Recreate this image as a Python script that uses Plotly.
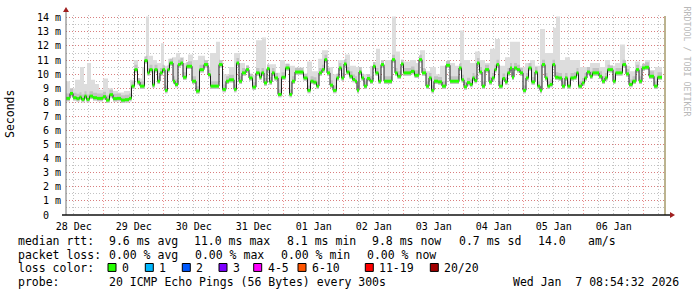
import numpy as np
import pandas as pd
import plotly.graph_objects as go

# ---------------- data ----------------
END_TIME = pd.Timestamp("2026-01-07 08:54:32")
START_TIME = END_TIME - pd.Timedelta(days=10)
DATA_END_H = 238.4  # hours after start where the data stops

# median RTT step function: start hour of each step, value in ms
MEDIAN_H = [0.0, 1.6, 2.8, 4.2, 5.4, 6.2, 7.4, 8.2, 9.4, 10.8, 12.4, 14.8, 16.0, 17.4, 18.8, 20.4, 22.0, 23.6,
            25.2, 26.2, 27.4, 28.6, 29.6, 31.4, 32.6, 33.4, 34.6, 35.4, 36.6, 37.6, 38.6, 39.6, 40.6, 41.4, 42.8,
            43.6, 44.8, 45.8, 46.8, 48.2, 50.4, 52.0, 53.4, 55.2, 56.8, 57.8, 61.2, 62.6, 64.0, 65.2, 67.2, 68.2,
            69.2, 70.4, 72.0, 73.2, 74.6, 76.0, 77.4, 78.2, 79.2, 80.4, 81.4, 82.4, 83.4, 84.8, 86.2, 87.8, 89.4,
            90.4, 91.6, 95.0, 96.6, 97.8, 99.0, 100.2, 101.2, 102.4, 103.4, 104.4, 105.6, 106.8, 108.2, 109.2,
            110.2, 111.2, 112.2, 113.4, 114.6, 115.6, 116.4, 117.2, 118.2, 119.2, 120.4, 121.6, 122.8, 123.8,
            125.0, 126.0, 127.2, 130.4, 131.6, 132.6, 134.0, 135.0, 138.0, 139.4, 141.2, 142.4, 144.0, 145.2,
            146.2, 147.2, 148.8, 150.4, 152.0, 153.6, 157.2, 158.2, 159.2, 160.4, 161.6, 162.6, 163.4, 164.4,
            165.4, 166.4, 167.6, 169.2, 170.4, 171.4, 172.2, 173.2, 174.6, 175.6, 176.6, 177.6, 178.4, 179.2,
            180.4, 181.6, 182.8, 184.0, 185.0, 186.2, 187.6, 188.6, 189.6, 190.4, 191.6, 192.6, 193.6, 194.6,
            195.6, 197.0, 198.4, 199.6, 200.6, 201.8, 203.2, 204.2, 205.0, 206.4, 207.4, 208.4, 209.6, 210.6,
            213.2, 214.4, 215.6, 216.6, 218.8, 219.8, 222.6, 224.0, 225.2, 226.6, 228.0, 229.2, 230.4, 231.6,
            233.2, 235.2, 236.6]
MEDIAN_MS = [8.28, 8.63, 8.33, 8.26, 8.37, 8.21, 8.44, 8.21, 8.44, 8.33, 8.28, 8.40, 8.16, 8.54, 8.26, 8.28, 8.16, 8.19,
             8.28, 9.15, 10.32, 9.43, 9.15, 10.96, 10.09, 10.32, 9.22, 10.32, 9.5, 10.09, 10.32, 8.85, 10.32, 10.79, 9.5,
             9.27, 10.68, 10.79, 9.78, 10.56, 9.5, 8.80, 10.32, 10.68, 9.97, 9.15, 10.68, 8.92, 9.5, 9.6, 8.92, 10.79,
             9.5, 10.09, 10.32, 9.73, 9.08, 10.09, 9.78, 10.09, 9.38, 10.39, 9.45, 10.09, 9.73, 8.56, 9.78, 10.44, 8.56,
             9.5, 10.15, 9.73, 8.85, 9.5, 9.43, 9.15, 10.09, 10.32, 11.03, 10.09, 9.22, 8.85, 9.73, 10.44,
             9.73, 10.72, 10.15, 9.85, 9.62, 9.5, 8.85, 10.15, 9.73, 9.15, 9.69, 9.5, 10.56, 10.09,
             9.5, 10.68, 9.5, 11.03, 10.09, 9.85, 10.72, 10.09, 10.2, 9.92, 11.03, 10.09, 9.15, 9.73,
             8.85, 9.5, 9.45, 9.15, 10.63, 9.5, 10.44, 9.6, 9.1, 9.4, 9.27, 9.73, 9.55, 10.79,
             10.15, 9.15, 10.32, 9.45, 9.73, 10.32, 10.68, 9.15, 9.69, 9.45, 10.09, 10.44, 9.78, 10.44,
             10.32, 10.09, 8.85, 9.73, 10.44, 9.45, 10.15, 9.15, 8.85, 10.68, 9.73, 9.15, 9.27, 10.68,
             9.78, 9.73, 9.15, 9.73, 9.15, 9.73, 9.78, 10.09, 9.15, 9.38, 9.73, 10.15, 9.85, 10.09,
             9.85, 9.5, 9.73, 10.32, 9.5, 10.09, 10.68, 10.02, 9.27, 9.5, 10.32, 9.5, 10.44, 10.49,
             9.85, 9.15, 9.78]

# smoke (highest ping) step function: start hour, value in ms
SMOKE_H = [0.0, 1.6, 3.6, 5.6, 7.2, 8.4, 10.0, 11.6, 13.2, 14.8, 16.8, 18.8, 20.8, 23.2, 25.6, 27.2, 28.8, 30.4,
           32.0, 33.2, 34.8, 36.4, 38.0, 39.2, 40.8, 42.4, 44.0, 45.6, 47.2, 48.8, 50.8, 52.8, 55.6, 57.6, 60.0,
           61.6, 63.2, 65.2, 67.2, 69.6, 71.6, 73.6, 76.0, 78.4, 80.0, 81.6, 84.0, 85.6, 87.6, 89.6, 91.6, 94.4,
           96.4, 98.4, 100.8, 102.4, 104.8, 106.8, 108.8, 111.6, 113.6, 116.0, 118.4, 121.6, 124.0, 125.6, 127.6,
           130.4, 132.0, 133.6, 135.2, 137.6, 140.0, 141.6, 143.6, 145.6, 148.0, 149.6, 152.4, 153.6, 155.6,
           157.6, 159.2, 161.6, 163.6, 165.6, 167.6, 169.6, 171.6, 173.6, 175.6, 177.6, 181.6, 183.6, 185.6,
           187.6, 189.6, 191.6, 194.8, 196.0, 197.6, 199.6, 201.6, 205.6, 209.6, 213.6, 215.6, 217.6, 219.6,
           221.6, 223.6, 225.6, 227.6, 229.6, 231.6, 233.6, 235.6]
SMOKE_TOP_MS = [9.5, 9.0, 9.6, 10.5, 9.3, 10.8, 9.6, 9.3, 8.9, 9.7, 9.0, 8.8, 8.7, 8.8, 9.6, 11.0, 9.7, 10.5,
                14.1, 11.3, 11.0, 10.8, 12.2, 10.6, 11.1, 11.2, 11.5, 11.2, 10.8, 11.4, 11.0, 11.3, 10.5, 11.5, 12.3,
                10.2, 10.0, 10.5, 11.5, 10.8, 10.1, 9.9, 12.4, 12.6, 10.3, 10.7, 10.1, 11.0, 10.4, 10.6, 10.1, 9.7,
                10.9, 10.2, 11.1, 11.7, 10.5, 10.0, 11.0, 11.4, 10.6, 10.5, 10.0, 10.6, 11.8, 10.5, 11.0,
                14.1, 11.6, 10.5, 10.9, 11.0, 10.8, 11.7, 10.2, 10.5, 10.0, 10.6, 11.0, 10.8, 10.6,
                13.1, 11.0, 10.8, 11.6, 11.0, 10.8, 11.8, 12.5, 10.6, 11.2, 12.3, 10.5, 10.8, 11.0,
                10.6, 13.2, 11.5, 13.3, 14.1, 11.0, 11.2, 11.0, 10.5, 10.8, 10.5, 11.0, 10.6, 10.8,
                12.1, 10.6, 10.2, 10.9, 10.6, 11.0, 10.3, 10.5]

Y_TICKS = list(range(0, 15))
Y_TICKTEXT = ["0\u00a0\u00a0"] + [f"{v} m" for v in range(1, 15)]

STATS_RTT = ["median rtt:", "9.6 ms avg", "11.0 ms max", "8.1 ms min", "9.8 ms now", "0.7 ms sd", "14.0", "am/s"]
STATS_LOSS = ["packet loss:", "0.00 % avg", "0.00 % max", "0.00 % min", "0.00 % now"]
LOSS_LABELS = ["0", "1", "2", "3", "4-5", "6-10", "11-19", "20/20"]
LOSS_COLORS = ["#26ff00", "#00b8ff", "#0059ff", "#7e00ff", "#ff00ff", "#ff5500", "#ff0000", "#a10000"]
PROBE_TEXT = ["probe:", "20 ICMP Echo Pings (56 Bytes) every 300s", "Wed Jan  7 08:54:32 2026"]

# ---------------- geometry ----------------
W, H = 697, 297
PL, PR, PT, PB = 66, 666, 13, 215
def px(x):
    return (x - PL) / (PR - PL)
def py(y):
    return (PB - y) / (PB - PT)

def t(h):
    return START_TIME + pd.to_timedelta(np.asarray(h, dtype=float), unit="h")

# ---------------- derived series ----------------
med_h = np.array(MEDIAN_H)
med_v = np.array(MEDIAN_MS)
sm_h = np.array(SMOKE_H)
sm_v = np.array(SMOKE_TOP_MS)
brk = np.unique(np.concatenate([med_h, sm_h]))
brk = brk[brk < DATA_END_H]
mi = np.searchsorted(med_h, brk, side="right") - 1
si = np.searchsorted(sm_h, brk, side="right") - 1
b_med = med_v[mi]
b_top = np.maximum(sm_v[si], b_med + 0.3)
b_low = b_med - 0.2
b_mid = np.minimum(b_med + 0.35, b_top)

bx = t(np.append(brk, DATA_END_H))
def ext(a):
    return np.append(a, a[-1])

fig = go.Figure()
# light smoke
fig.add_trace(go.Scatter(x=bx, y=ext(b_low), mode="lines", line=dict(width=0, shape="hv"),
                         hoverinfo="skip", showlegend=False))
fig.add_trace(go.Scatter(x=bx, y=ext(b_top), mode="lines", line=dict(width=0, shape="hv"),
                         fill="tonexty", fillcolor="#dddddd", hoverinfo="skip", showlegend=False))
# darker smoke near median
fig.add_trace(go.Scatter(x=bx, y=ext(b_low), mode="lines", line=dict(width=0, shape="hv"),
                         hoverinfo="skip", showlegend=False))
fig.add_trace(go.Scatter(x=bx, y=ext(b_mid), mode="lines", line=dict(width=0, shape="hv"),
                         fill="tonexty", fillcolor="#c2c2c2", hoverinfo="skip", showlegend=False))
# median black step line
mx = t(np.append(med_h, DATA_END_H))
fig.add_trace(go.Scatter(x=mx, y=ext(med_v), mode="lines", line=dict(width=1, color="#202020", shape="hv"),
                         hoverinfo="skip", showlegend=False))
# green loss-colour boxes on each step
gx, gy = [], []
ends = np.append(med_h[1:], DATA_END_H)
for h0, h1, v in zip(med_h, ends, med_v):
    gx += [t(h0), t(h1), None]
    gy += [v, v, None]
fig.add_trace(go.Scatter(x=gx, y=gy, mode="lines", line=dict(width=3, color=LOSS_COLORS[0]),
                         hoverinfo="skip", showlegend=False))

MONO = "DejaVu Sans Mono"
MAJ = "rgba(230,80,80,0.6)"
MIN = "#c2c2c2"
fig.update_layout(
    width=W, height=H, margin=dict(l=PL, r=W - PR, t=PT, b=H - PB),
    paper_bgcolor="white", plot_bgcolor="white", showlegend=False,
    xaxis=dict(type="date", range=[START_TIME, END_TIME], tick0="2025-12-28 00:00:00", dtick=86400000,
               tickformat="%d %b", ticklabelmode="period", ticks="", showline=False, zeroline=False,
               ticklabelstandoff=4,
               showgrid=True, gridcolor=MAJ, griddash="1px,2px", gridwidth=1,
               minor=dict(dtick=6 * 3600000, showgrid=True, gridcolor=MIN, griddash="1px,2px", gridwidth=1),
               tickfont=dict(family=MONO, size=10, color="black"), fixedrange=True),
    yaxis=dict(range=[0, 14.2], tickvals=Y_TICKS, ticktext=Y_TICKTEXT, ticks="", showline=False, zeroline=False,
               ticklabelstandoff=4,
               showgrid=True, gridcolor=MAJ, griddash="1px,2px", gridwidth=1,
               minor=dict(dtick=0.5, showgrid=True, gridcolor=MIN, griddash="1px,2px", gridwidth=1),
               tickfont=dict(family=MONO, size=10, color="black"), fixedrange=True),
)

shapes = []
# time marker at the right end
shapes.append(dict(type="line", xref="paper", yref="paper", x0=px(665), x1=px(665), y0=py(215), y1=py(14),
                   line=dict(color="#bcb38f", width=2)))
# axes
shapes.append(dict(type="line", xref="paper", yref="paper", x0=px(66), x1=px(66), y0=py(215), y1=py(8),
                   line=dict(color="#707070", width=1)))
shapes.append(dict(type="line", xref="paper", yref="paper", x0=px(62), x1=px(670), y0=py(215), y1=py(215),
                   line=dict(color="#101010", width=1.5)))
shapes.append(dict(type="path", xref="paper", yref="paper",
                   path=f"M {px(63)} {py(10)} L {px(69)} {py(10)} L {px(66)} {py(5)} Z",
                   fillcolor="#a02020", line=dict(width=0)))
shapes.append(dict(type="path", xref="paper", yref="paper",
                   path=f"M {px(670)} {py(212)} L {px(670)} {py(218)} L {px(675)} {py(215)} Z",
                   fillcolor="#a02020", line=dict(width=0)))
# loss colour squares
SQ_X = [112, 149.3, 186.3, 223, 257.7, 302, 369.3, 434.3]
for cx, col in zip(SQ_X, LOSS_COLORS):
    shapes.append(dict(type="rect", xref="paper", yref="paper", x0=px(cx - 4), x1=px(cx + 4),
                       y0=py(272), y1=py(264), fillcolor=col, line=dict(color="black", width=1)))
fig.update_layout(shapes=shapes)

ann = []
def txt(x, y, s, size=11.5, color="black", anchor="left", angle=0, font=MONO):
    ann.append(dict(xref="paper", yref="paper", x=px(x), y=py(y), text=s, showarrow=False,
                    xanchor=anchor, yanchor="middle", textangle=angle,
                    font=dict(family=font, size=size, color=color)))

txt(10, 113, "Seconds", anchor="center", angle=-90)
txt(687, 60, "RRDTOOL / TOBI OETIKER", size=8.3, color="#b8b8b8", anchor="center", angle=90)

ROW = [241, 255, 268.5, 282.5]
RTT_X = [16, 107, 192, 285, 370, 457, 536, 586]
for x, s in zip(RTT_X, STATS_RTT):
    txt(x, ROW[0], s)
LOSS_X = [16, 107, 193, 279, 365]
for x, s in zip(LOSS_X, STATS_LOSS):
    txt(x, ROW[1], s)
txt(16, ROW[2], "loss color:")
for cx, lab in zip(SQ_X, LOSS_LABELS):
    txt(cx + 8, ROW[2], lab)
txt(16, ROW[3], PROBE_TEXT[0])
txt(107, ROW[3], PROBE_TEXT[1])
txt(681, ROW[3], PROBE_TEXT[2].replace("  ", " \u00a0"), anchor="right")
fig.update_layout(annotations=ann)

fig.write_html("out.html")
